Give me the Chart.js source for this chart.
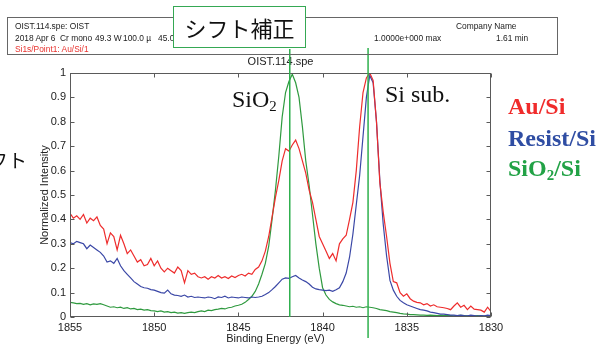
<!DOCTYPE html>
<html>
<head>
<meta charset="utf-8">
<script src="https://cdn.jsdelivr.net/npm/chart.js@4.4.1/dist/chart.umd.min.js"></script>
<style>
  body { margin: 0; background: #fff; }
  #wrap { position: relative; width: 601px; height: 346px; overflow: hidden; }
  #chart { position: absolute; left: 0; top: 0; }
  .t { position: absolute; white-space: nowrap; line-height: 1; }
  .hd { font: 8.4px "Liberation Sans", Arial, sans-serif; color: #222; }
  .hd.red { color: #e8322e; }
  #header { position: absolute; left: 7px; top: 17px; width: 549px; height: 36px; border: 1px solid #666; }
  #shift {
    position: absolute; left: 173px; top: 6px; width: 131px; height: 40px;
    border: 1.5px solid #35a853; background: #fff;
    font: 22px "Noto Sans CJK JP", sans-serif; color: #111;
    display: flex; align-items: center; justify-content: center;
  }
  .lg { font: bold 24px "Liberation Serif", "Times New Roman", serif; }
  .an { font: 24px "Liberation Serif", "Times New Roman", serif; color: #111; }
  sub { font-size: 0.62em; vertical-align: -0.28em; line-height: 0; }
  #side { position: absolute; left: -60px; top: 150px; width: 87px; text-align: right;
          font: 19px "Noto Sans CJK JP", sans-serif; color: #111; line-height: 1; }
</style>
</head>
<body>
<div id="wrap">
  <canvas id="chart" width="601" height="346"></canvas>

  <div id="header"></div>
  <span class="t hd" style="left:15px;top:21px">OIST.114.spe: OIST</span>
  <span class="t hd" style="left:15px;top:33px">2018 Apr 6</span>
  <span class="t hd" style="left:60px;top:33px">Cr mono</span>
  <span class="t hd" style="left:95px;top:33px">49.3 W</span>
  <span class="t hd" style="left:123px;top:33px">100.0 µ</span>
  <span class="t hd" style="left:158px;top:33px">45.0°</span>
  <span class="t hd red" style="left:15px;top:44px">Si1s/Point1: Au/Si/1</span>
  <span class="t hd" style="left:456px;top:21px">Company Name</span>
  <span class="t hd" style="left:374px;top:33px">1.0000e+000 max</span>
  <span class="t hd" style="left:496px;top:33px">1.61 min</span>

  <div id="shift">シフト補正</div>
  <div id="side">シフト</div>

  <span class="t an" style="left:232px;top:86px">SiO<sub>2</sub></span>
  <span class="t an" style="left:385px;top:81px">Si sub.</span>

  <span class="t lg" style="left:508px;top:93px;color:#f02b2b">Au/Si</span>
  <span class="t lg" style="left:508px;top:125px;color:#2f4da3">Resist/Si</span>
  <span class="t lg" style="left:508px;top:155px;color:#22a246">SiO<sub>2</sub>/Si</span>
</div>

<script>
/*
Si1s spectra, normalized intensity vs binding energy
- three samples: Au/Si, Resist/Si, SiO2/Si
- energies sampled every 0.2 eV, 1855 -> 1830
*/

// sampling grid of the spectra (eV)
const E_START = 1855;
const E_STEP = 0.2;
const E_COUNT = 126;
const energy = Array.from({ length: E_COUNT }, (_, i) => +(E_START - E_STEP * i).toFixed(1));

// Au/Si
const auSi = [
  0.425, 0.405, 0.415, 0.400, 0.420, 0.385, 0.405, 0.395, 0.410, 0.375, // 1855.0
  0.360, 0.300, 0.345, 0.330, 0.275, 0.335, 0.300, 0.260, 0.275, 0.250, // 1853.0
  0.225, 0.235, 0.210, 0.215, 0.240, 0.210, 0.230, 0.200, 0.185, 0.200, // 1851.0
  0.190, 0.180, 0.205, 0.190, 0.140, 0.190, 0.175, 0.180, 0.165, 0.160, // 1849.0
  0.165, 0.155, 0.165, 0.160, 0.170, 0.160, 0.165, 0.158, 0.168, 0.162, // 1847.0
  0.170, 0.175, 0.168, 0.180, 0.175, 0.195, 0.205, 0.230, 0.270, 0.330, // 1845.0
  0.410, 0.490, 0.560, 0.640, 0.690, 0.680, 0.705, 0.725, 0.690, 0.640, // 1843.0
  0.590, 0.520, 0.470, 0.400, 0.330, 0.300, 0.270, 0.240, 0.260, 0.230, // 1841.0
  0.300, 0.320, 0.335, 0.400, 0.470, 0.600, 0.780, 0.920, 0.980, 1.000, // 1839.0
  0.970, 0.800, 0.550, 0.430, 0.330, 0.220, 0.145, 0.140, 0.100, 0.085, // 1837.0
  0.095, 0.075, 0.065, 0.060, 0.058, 0.050, 0.055, 0.045, 0.050, 0.042, // 1835.0
  0.040, 0.038, 0.035, 0.030, 0.045, 0.058, 0.040, 0.048, 0.030, 0.045, // 1833.0
  0.032, 0.030, 0.028, 0.020, 0.040, 0.022                              // 1831.0
];

// Resist/Si
const resistSi = [
  0.305, 0.300, 0.310, 0.305, 0.300, 0.280, 0.295, 0.285, 0.275, 0.265,
  0.250, 0.225, 0.230, 0.220, 0.240, 0.210, 0.190, 0.175, 0.160, 0.145,
  0.135, 0.125, 0.120, 0.118, 0.112, 0.110, 0.105, 0.100, 0.098, 0.110,
  0.095, 0.090, 0.088, 0.085, 0.090, 0.082, 0.085, 0.080, 0.082, 0.080,
  0.078, 0.082, 0.080, 0.075, 0.082, 0.080, 0.085, 0.078, 0.082, 0.080,
  0.078, 0.082, 0.080, 0.078, 0.082, 0.080, 0.082, 0.085, 0.092, 0.100,
  0.112, 0.125, 0.140, 0.155, 0.160, 0.158, 0.165, 0.170, 0.160, 0.152,
  0.145, 0.135, 0.122, 0.115, 0.112, 0.110, 0.108, 0.110, 0.105, 0.112,
  0.120, 0.145, 0.180, 0.245, 0.340, 0.460, 0.580, 0.740, 0.900, 0.990,
  0.960, 0.800, 0.560, 0.380, 0.250, 0.150, 0.110, 0.085, 0.068, 0.058,
  0.050, 0.045, 0.040, 0.035, 0.030, 0.028, 0.025, 0.020, 0.018, 0.015,
  0.012, 0.012, 0.010, 0.008, 0.008, 0.006, 0.008, 0.006, 0.005, 0.008,
  0.006, 0.004, 0.006, 0.005, 0.008, 0.006
];

// SiO2/Si
const sio2Si = [
  0.060, 0.058, 0.055, 0.056, 0.052, 0.055, 0.050, 0.054, 0.052, 0.055,
  0.050, 0.045, 0.040, 0.042, 0.038, 0.040, 0.035, 0.038, 0.033, 0.035,
  0.030, 0.032, 0.028, 0.030, 0.026, 0.025, 0.022, 0.025, 0.020, 0.022,
  0.018, 0.020, 0.016, 0.018, 0.015, 0.018, 0.020, 0.018, 0.022, 0.025,
  0.022, 0.028, 0.026, 0.030, 0.032, 0.035, 0.033, 0.038, 0.040, 0.045,
  0.048, 0.052, 0.060, 0.072, 0.085, 0.105, 0.135, 0.175, 0.220, 0.290,
  0.400, 0.520, 0.660, 0.820, 0.920, 0.965, 0.995, 0.960, 0.900, 0.780,
  0.640, 0.540, 0.420, 0.300, 0.200, 0.120, 0.090, 0.072, 0.062, 0.055,
  0.050, 0.048, 0.045, 0.042, 0.044, 0.040, 0.042, 0.038, 0.042, 0.040,
  0.038, 0.035, 0.030, 0.028, 0.026, 0.022, 0.020, 0.018, 0.015, 0.013,
  0.012, 0.010, 0.010, 0.009, 0.008, 0.008, 0.007, 0.008, 0.007, 0.006,
  0.007, 0.006, 0.007, 0.006, 0.005, 0.006, 0.007, 0.006, 0.005, 0.006,
  0.005, 0.006, 0.005, 0.004, 0.005, 0.005
];

// peak markers (eV): SiO2 peak, Si substrate peak
const shiftLines = [1841.95, 1837.3];

const xTicks = [1855, 1850, 1845, 1840, 1835, 1830];
const yTicks = [0, 0.1, 0.2, 0.3, 0.4, 0.5, 0.6, 0.7, 0.8, 0.9, 1];

/* -----------------------------
   helpers
------------------------------ */
function toPoints(values) {
  return values.map((v, i) => ({ x: energy[i], y: v }));
}

const AXIS_COLOR = '#5a5a5a';
const TICK_FONT = { family: '"Liberation Sans", Arial, sans-serif', size: 11 };

/* -----------------------------
   frame plugin: box, inward ticks, titles, marker lines
------------------------------ */
const framePlugin = {
  id: 'frame',
  afterDatasetsDraw(chart) {
    const { ctx, chartArea: a, scales } = chart;
    const L = Math.round(a.left) + 0.5, R = Math.round(a.right) - 0.5;
    const T = Math.round(a.top) + 0.5, B = Math.round(a.bottom) - 0.5;

    ctx.save();
    ctx.strokeStyle = AXIS_COLOR;
    ctx.lineWidth = 1;
    ctx.strokeRect(L, T, R - L, B - T);

    ctx.beginPath();
    xTicks.forEach(v => {
      const px = Math.round(scales.x.getPixelForValue(v)) + 0.5;
      ctx.moveTo(px, B); ctx.lineTo(px, B - 4);
      ctx.moveTo(px, T); ctx.lineTo(px, T + 4);
    });
    yTicks.forEach(v => {
      const py = Math.round(scales.y.getPixelForValue(v)) + 0.5;
      ctx.moveTo(L, py); ctx.lineTo(L + 4, py);
      ctx.moveTo(R, py); ctx.lineTo(R - 4, py);
    });
    ctx.stroke();

    // titles
    ctx.fillStyle = '#222';
    ctx.font = '11px "Liberation Sans", Arial, sans-serif';
    ctx.textAlign = 'center';
    ctx.textBaseline = 'middle';
    ctx.fillText('OIST.114.spe', (a.left + a.right) / 2, 62);
    ctx.fillText('Binding Energy (eV)', (a.left + a.right) / 2 - 5, 339);

    ctx.translate(45, (a.top + a.bottom) / 2);
    ctx.rotate(-Math.PI / 2);
    ctx.fillText('Normalized Intensity', 0, 0);
    ctx.restore();
  },
  afterDraw(chart) {
    const { ctx, scales } = chart;
    ctx.save();
    ctx.strokeStyle = '#2fb04e';
    ctx.lineWidth = 1.5;
    ctx.beginPath();
    const x1 = scales.x.getPixelForValue(shiftLines[0]);
    const x2 = scales.x.getPixelForValue(shiftLines[1]);
    ctx.moveTo(x1, 49); ctx.lineTo(x1, 317);
    ctx.moveTo(x2, 48); ctx.lineTo(x2, 338);
    ctx.stroke();
    ctx.restore();
  }
};

/* -----------------------------
   chart
------------------------------ */
function lineSet(label, values, color) {
  return {
    label,
    data: toPoints(values),
    borderColor: color,
    borderWidth: 1.2,
    pointRadius: 0,
    tension: 0,
    fill: false
  };
}

new Chart(document.getElementById('chart'), {
  type: 'line',
  data: {
    datasets: [
      lineSet('Au/Si', auSi, '#ee2c2c'),
      lineSet('Resist/Si', resistSi, '#3a47a6'),
      lineSet('SiO2/Si', sio2Si, '#2f9a3f')
    ]
  },
  options: {
    responsive: false,
    animation: false,
    devicePixelRatio: 1,
    layout: { padding: { left: 0, top: 73, right: 110, bottom: 0 } },
    plugins: { legend: { display: false }, tooltip: { enabled: false } },
    scales: {
      x: {
        type: 'linear',
        min: 1830,
        max: 1855,
        reverse: true,
        grid: { display: false, drawTicks: false },
        border: { display: false },
        ticks: {
          stepSize: 5, padding: 4, color: '#222', font: TICK_FONT, maxRotation: 0,
          callback: v => String(v)
        },
        afterFit: s => { s.height = 29; }
      },
      y: {
        min: 0,
        max: 1,
        grid: { display: false, drawTicks: false },
        border: { display: false },
        ticks: {
          stepSize: 0.1, padding: 4, color: '#222', font: TICK_FONT,
          callback: v => String(+v.toFixed(1))
        },
        afterFit: s => { s.width = 70; }
      }
    }
  },
  plugins: [framePlugin]
});
</script>
</body>
</html>
